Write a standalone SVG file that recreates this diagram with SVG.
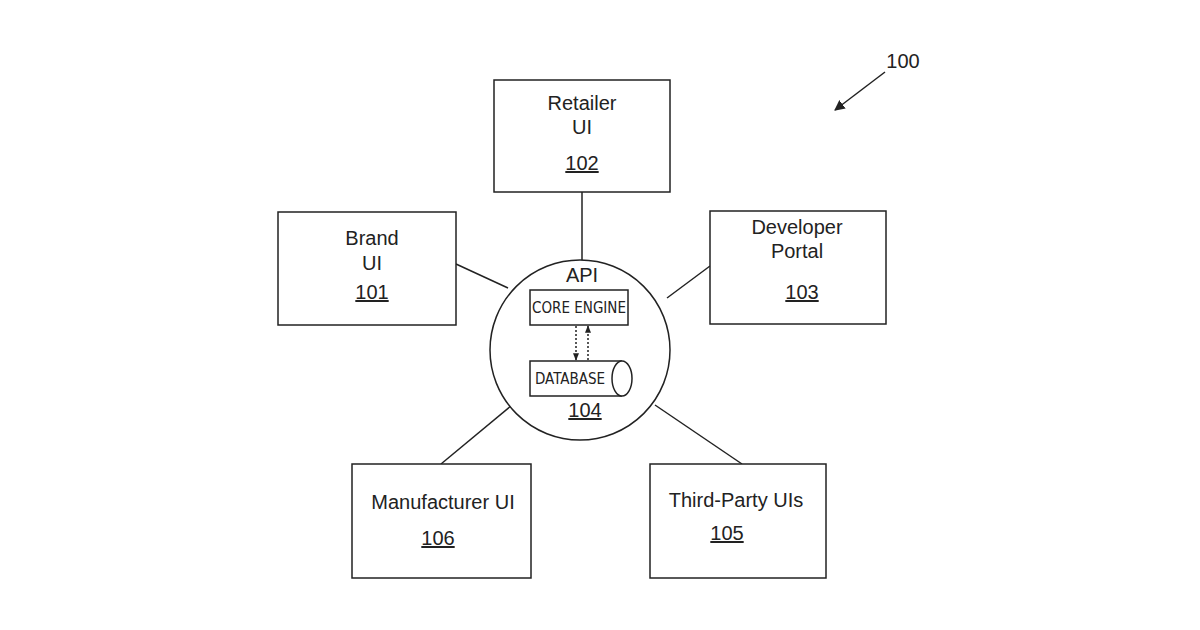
<svg xmlns="http://www.w3.org/2000/svg" width="1200" height="630" viewBox="0 0 1200 630">
<defs>
<style>
.b{fill:#fff;stroke:#222;stroke-width:1.5}
.t{font-family:"Liberation Sans",Arial,sans-serif;font-size:20px;fill:#222;text-anchor:middle}
.s{font-family:"Liberation Sans Narrow","DejaVu Sans Condensed",sans-serif;font-size:15px;fill:#222;text-anchor:middle}
.l{stroke:#222;stroke-width:1.5;fill:none}
.d{stroke:#222;stroke-width:1.5;stroke-dasharray:2,2;fill:none}
</style>
<marker id="ah" viewBox="0 0 10 10" refX="9" refY="5" markerWidth="7" markerHeight="7" orient="auto"><path d="M0,0L10,5L0,10z" fill="#222"/></marker>
<marker id="bh" viewBox="0 0 10 10" refX="9" refY="5" markerWidth="5" markerHeight="5" orient="auto"><path d="M0,1L10,5L0,9z" fill="#222"/></marker>
</defs>
<rect width="1200" height="630" fill="#fff"/>
<g id="connectors">
<line class="l" x1="582" y1="192" x2="582" y2="260"/>
<line class="l" x1="456" y1="264" x2="508" y2="288"/>
<line class="l" x1="667" y1="298" x2="710" y2="266"/>
<line class="l" x1="441" y1="464" x2="512" y2="405"/>
<line class="l" x1="742" y1="464" x2="655" y2="405"/>
<line class="l" x1="885" y1="72" x2="835" y2="110" marker-end="url(#ah)"/>
</g>
<text class="t" x="903" y="68">100</text>
<g id="n102"><rect class="b" x="494" y="80" width="176" height="112"/>
<text class="t" x="582" y="110">Retailer</text><text class="t" x="582" y="134">UI</text><text class="t" x="582" y="170" text-decoration="underline">102</text></g>
<g id="n101"><rect class="b" x="278" y="212" width="178" height="113"/>
<text class="t" x="372" y="245">Brand</text><text class="t" x="372" y="270">UI</text><text class="t" x="372" y="299" text-decoration="underline">101</text></g>
<g id="n103"><rect class="b" x="710" y="211" width="176" height="113"/>
<text class="t" x="797" y="234">Developer</text><text class="t" x="797" y="258">Portal</text><text class="t" x="802" y="299" text-decoration="underline">103</text></g>
<g id="n106"><rect class="b" x="352" y="464" width="179" height="114"/>
<text class="t" x="443" y="509">Manufacturer UI</text><text class="t" x="438" y="545" text-decoration="underline">106</text></g>
<g id="n105"><rect class="b" x="650" y="464" width="176" height="114"/>
<text class="t" x="736" y="507">Third-Party UIs</text><text class="t" x="727" y="540" text-decoration="underline">105</text></g>
<g id="n104"><circle class="b" cx="580" cy="350" r="90"/>
<text class="t" x="582" y="282">API</text>
<rect class="b" x="530" y="290" width="98" height="35"/>
<text class="s" x="579" y="313">CORE ENGINE</text>
<path class="d" d="M576,326V360" marker-end="url(#bh)"/>
<path class="d" d="M588,360V326" marker-end="url(#bh)"/>
<path class="b" d="M622,361H530V396H622"/>
<ellipse class="b" cx="622" cy="378.5" rx="10" ry="17.5"/>
<text class="s" x="570" y="384">DATABASE</text>
<text class="t" x="585" y="417" text-decoration="underline">104</text></g>
</svg>
